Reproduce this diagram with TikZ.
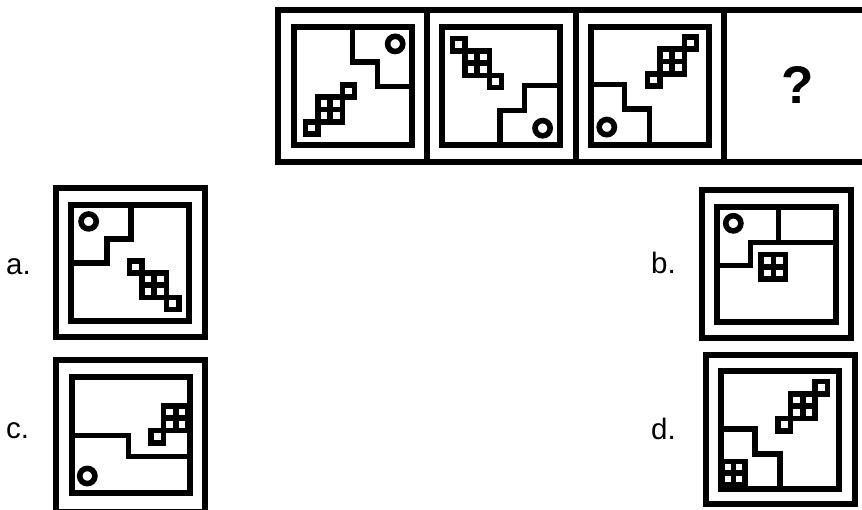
\documentclass[tikz,border=0pt]{standalone}
\usepackage{fontspec}
\setmainfont{Liberation Sans}
\tikzset{
  frame/.style={line width=6pt},
  figline/.style={line width=5.6pt},
  lbl/.style={font=\fontsize{29.5}{34}\selectfont, inner sep=0pt, anchor=base west},
}
% base figure, local coordinates (y down), centred on the inner square
\newcommand{\pzInner}{\draw[frame] (-59,-59) rectangle (59,59);}
\newcommand{\pzStair}{\draw[figline] (0,-59) -- (0,-23.5) -- (25,-23.5) -- (25,1) -- (59,1);}
\newcommand{\pzRing}{\draw[figline] (42.7,-41.6) circle (7.6);}
\newcommand{\pzBlock}[3]{%
  \draw[figline] (#1-#3,#2-#3) rectangle (#1+#3,#2+#3)
    (#1,#2-#3) -- (#1,#2+#3) (#1-#3,#2) -- (#1+#3,#2);}
\newcommand{\pzCell}[3]{\draw[figline] (#1-#3/2,#2-#3/2) rectangle (#1+#3/2,#2+#3/2);}
\newcommand{\pzChain}{\pzBlock{-22.5}{24}{12.3}\pzCell{-40.95}{42.45}{12.3}\pzCell{-4.05}{5.55}{12.3}}
\begin{document}
\begin{tikzpicture}[x=1pt,y=-1pt]
\useasboundingbox (0,0) rectangle (862,509);
\clip (0,0) rectangle (862,509);
\fill[white] (0,0) rectangle (862,509);

% ---- top row ----
\draw[frame] (278,9.5) rectangle (873,162);
\draw[frame] (426.5,9.5) -- (426.5,162);
\draw[frame] (575.5,9.5) -- (575.5,162);
\draw[frame] (723.5,9.5) -- (723.5,162);

\begin{scope}[shift={(352.5,85.5)}]
  \pzInner\pzStair\pzRing\pzChain
\end{scope}
\begin{scope}[shift={(501,85.5)}, rotate=-90]
  \pzInner\pzStair\pzRing\pzChain
\end{scope}
\begin{scope}[shift={(649.5,85.5)}, rotate=180]
  \pzInner\pzStair\pzRing\pzChain
\end{scope}
\node[font=\bfseries\fontsize{53}{60}\selectfont, inner sep=0pt] (qm) at (798,85) {?};

% ---- option a ----
\node[lbl] (la) at (6,274) {a.};
\draw[frame] (56,188) rectangle (204.5,337);
\begin{scope}[shift={(130.25,263.25)}, yscale=0.979, rotate=90]
  \pzInner\pzStair\pzRing\pzChain
\end{scope}

% ---- option b ----
\node[lbl] (lb) at (651,273) {b.};
\draw[frame] (702,189.5) rectangle (850.5,337.5);
\draw[frame] (717,206.5) rectangle (835.5,321.5);
\draw[figline] (778.5,206.5) -- (778.5,242.5);
\draw[figline] (835.5,242.5) -- (750.5,242.5) -- (750.5,265.5) -- (717,265.5);
\draw[figline] (733.3,223.3) circle (7.6);
\pzBlock{773.3}{266.7}{12.3}

% ---- option c ----
\node[lbl] (lc) at (6,438) {c.};
\draw[frame] (56,360) rectangle (204.5,512);
\draw[frame] (71.5,376.5) rectangle (189.5,492.5);
\draw[figline] (71.5,435.5) -- (128.5,435.5) -- (128.5,456.5) -- (189.5,456.5);
\draw[figline] (87.3,476) circle (7.6);
\pzBlock{175.85}{418.25}{12.3}
\pzCell{157.4}{436.7}{12.3}

% ---- option d ----
\node[lbl] (ld) at (651,439) {d.};
\draw[frame] (706,355) rectangle (854.5,504);
\begin{scope}[shift={(780.25,430.25)}, rotate=180]
  \pzInner\pzStair\pzChain
\end{scope}
\pzBlock{733.6}{473}{11.4}
\end{tikzpicture}
\end{document}
